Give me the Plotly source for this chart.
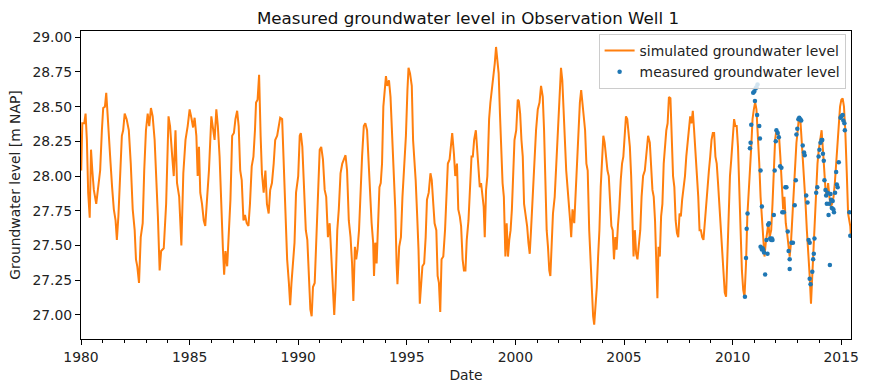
import pandas as pd
import plotly.graph_objects as go

title = "Measured groundwater level in Observation Well 1"
x_label = "Date"
y_label = "Groundwater level [m NAP]"
sim_name = "simulated groundwater level"
obs_name = "measured groundwater level"

# simulated groundwater level: (decimal year, level m NAP)
simulated = [
    (1980.01, 28.04), (1980.06, 28.38), (1980.15, 28.38), (1980.21, 28.45), (1980.27, 28.26), (1980.33, 27.88),
    (1980.40, 27.70), (1980.46, 28.19), (1980.52, 28.04), (1980.59, 27.90), (1980.70, 27.80), (1980.79, 27.92),
    (1980.88, 28.04), (1980.96, 28.33), (1981.02, 28.49), (1981.10, 28.50), (1981.16, 28.60), (1981.22, 28.45),
    (1981.28, 28.26), (1981.36, 28.09), (1981.43, 27.92), (1981.51, 27.76), (1981.59, 27.68), (1981.65, 27.54),
    (1981.72, 27.71), (1981.80, 27.97), (1981.88, 28.29), (1981.94, 28.33), (1982.01, 28.45), (1982.10, 28.41),
    (1982.20, 28.33), (1982.29, 28.09), (1982.38, 27.76), (1982.47, 27.61), (1982.53, 27.40), (1982.59, 27.35),
    (1982.67, 27.23), (1982.75, 27.56), (1982.84, 27.66), (1982.91, 28.04), (1982.99, 28.33), (1983.07, 28.45),
    (1983.14, 28.36), (1983.22, 28.49), (1983.30, 28.43), (1983.39, 28.26), (1983.46, 28.02), (1983.54, 27.71),
    (1983.62, 27.32), (1983.69, 27.46), (1983.81, 27.48), (1983.92, 27.80), (1984.03, 28.43), (1984.10, 28.36),
    (1984.20, 28.14), (1984.27, 28.00), (1984.35, 28.33), (1984.42, 27.95), (1984.52, 27.85), (1984.62, 27.50),
    (1984.71, 28.02), (1984.81, 28.26), (1984.91, 28.36),
    (1985.00, 28.48), (1985.08, 28.42), (1985.16, 28.35), (1985.23, 28.42), (1985.31, 28.29), (1985.37, 28.00),
    (1985.43, 28.21), (1985.49, 27.88), (1985.57, 27.80), (1985.65, 27.68), (1985.72, 27.64), (1985.80, 27.83),
    (1985.89, 28.04), (1986.00, 28.43), (1986.07, 28.33), (1986.15, 28.26), (1986.23, 28.48), (1986.30, 28.36),
    (1986.38, 28.14), (1986.46, 27.71), (1986.53, 27.49), (1986.59, 27.29), (1986.65, 27.46), (1986.73, 27.35),
    (1986.81, 27.64), (1986.88, 27.83), (1986.96, 28.29), (1987.04, 28.31), (1987.11, 28.41), (1987.19, 28.47),
    (1987.26, 28.36), (1987.33, 28.04), (1987.40, 27.97), (1987.48, 27.68), (1987.55, 27.72), (1987.63, 27.66),
    (1987.71, 27.64), (1987.78, 27.80), (1987.86, 28.07), (1987.94, 28.14), (1988.01, 28.33), (1988.06, 28.53),
    (1988.13, 28.55), (1988.20, 28.73), (1988.27, 28.29), (1988.33, 28.02), (1988.41, 27.88), (1988.49, 28.04),
    (1988.56, 27.80), (1988.64, 27.73), (1988.71, 27.90), (1988.79, 27.95), (1988.87, 28.09), (1988.94, 28.26),
    (1989.03, 28.29), (1989.11, 28.36), (1989.17, 28.42), (1989.26, 28.41), (1989.34, 28.00), (1989.42, 27.66),
    (1989.49, 27.40), (1989.57, 27.23), (1989.63, 27.07), (1989.69, 27.23), (1989.75, 27.37), (1989.83, 27.52),
    (1989.90, 27.88), (1990.00, 28.00), (1990.07, 28.29),
    (1990.12, 28.31), (1990.19, 28.21), (1990.27, 27.85), (1990.35, 27.61), (1990.42, 27.54), (1990.50, 27.23),
    (1990.56, 27.04), (1990.62, 26.99), (1990.68, 27.20), (1990.76, 27.23), (1990.84, 27.56), (1990.91, 27.88),
    (1990.99, 28.19), (1991.06, 28.21), (1991.14, 28.12), (1991.22, 27.90), (1991.29, 27.85), (1991.37, 27.56),
    (1991.45, 27.66), (1991.51, 27.47), (1991.58, 27.28), (1991.66, 27.00), (1991.72, 27.20), (1991.80, 27.61),
    (1991.87, 27.76), (1991.95, 28.02), (1992.03, 28.09), (1992.10, 28.12), (1992.18, 28.15), (1992.25, 28.04),
    (1992.33, 27.68), (1992.41, 27.56), (1992.48, 27.37), (1992.54, 27.10), (1992.61, 27.49), (1992.67, 27.40),
    (1992.73, 27.47), (1992.80, 27.61), (1992.88, 28.00), (1992.94, 28.14), (1993.02, 28.36), (1993.09, 28.38),
    (1993.17, 28.33), (1993.25, 28.12), (1993.32, 27.85), (1993.38, 27.66), (1993.45, 27.52), (1993.49, 27.28),
    (1993.55, 27.52), (1993.61, 27.37), (1993.67, 27.71), (1993.74, 27.92), (1993.80, 27.95), (1993.86, 28.09),
    (1993.92, 28.50), (1993.98, 28.65), (1994.04, 28.72), (1994.10, 28.65), (1994.18, 28.69), (1994.25, 28.57),
    (1994.32, 28.31), (1994.39, 28.14), (1994.47, 27.76), (1994.53, 27.37), (1994.57, 27.22), (1994.65, 27.49),
    (1994.73, 27.56), (1994.80, 27.85), (1994.88, 28.04), (1994.96, 28.29), (1995.03, 28.62),
    (1995.08, 28.78), (1995.15, 28.74), (1995.23, 28.65), (1995.29, 28.26), (1995.35, 28.14), (1995.41, 27.97),
    (1995.48, 27.71), (1995.54, 27.47), (1995.60, 27.08), (1995.66, 27.20), (1995.72, 27.35), (1995.80, 27.37),
    (1995.87, 27.56), (1995.93, 27.83), (1996.01, 27.88), (1996.09, 28.02), (1996.15, 27.97), (1996.22, 27.80),
    (1996.28, 27.66), (1996.36, 27.61), (1996.42, 27.28), (1996.48, 27.23), (1996.54, 27.02), (1996.60, 27.40),
    (1996.68, 27.42), (1996.76, 27.61), (1996.83, 27.92), (1996.89, 28.09), (1996.97, 28.12), (1997.03, 28.24),
    (1997.09, 28.31), (1997.17, 28.16), (1997.23, 28.00), (1997.31, 28.09), (1997.37, 27.76), (1997.44, 27.71),
    (1997.50, 27.64), (1997.57, 27.40), (1997.63, 27.32), (1997.70, 27.32), (1997.76, 27.54), (1997.84, 27.68),
    (1997.90, 27.88), (1997.98, 28.14), (1998.04, 28.14), (1998.10, 28.26), (1998.18, 28.33), (1998.24, 28.19),
    (1998.30, 28.02), (1998.36, 27.92), (1998.42, 27.95), (1998.48, 27.85), (1998.54, 27.78), (1998.59, 27.56),
    (1998.65, 27.90), (1998.71, 28.00), (1998.79, 28.41), (1998.85, 28.53), (1998.92, 28.62), (1998.99, 28.74),
    (1999.05, 28.81), (1999.11, 28.93), (1999.17, 28.84), (1999.23, 28.74), (1999.29, 28.45), (1999.35, 28.14),
    (1999.41, 27.95), (1999.47, 27.85), (1999.54, 27.42), (1999.60, 27.66), (1999.66, 27.42), (1999.72, 27.54),
    (1999.78, 27.61), (1999.84, 27.76), (1999.90, 28.00), (1999.96, 28.26), (2000.04, 28.33),
    (2000.11, 28.55), (2000.16, 28.54), (2000.22, 28.45), (2000.28, 28.26), (2000.34, 28.14), (2000.40, 27.80),
    (2000.48, 27.71), (2000.54, 27.64), (2000.60, 27.52), (2000.66, 27.44), (2000.72, 27.61), (2000.80, 27.90),
    (2000.88, 28.14), (2000.95, 28.33), (2001.03, 28.48), (2001.11, 28.53), (2001.18, 28.65), (2001.26, 28.57),
    (2001.32, 28.33), (2001.38, 28.02), (2001.44, 27.61), (2001.50, 27.49), (2001.56, 27.32), (2001.61, 27.28),
    (2001.67, 27.54), (2001.73, 27.73), (2001.81, 27.85), (2001.89, 28.09), (2001.96, 28.33), (2002.02, 28.45),
    (2002.10, 28.78), (2002.16, 28.69), (2002.22, 28.45), (2002.28, 28.29), (2002.34, 28.04), (2002.40, 27.92),
    (2002.47, 27.80), (2002.53, 27.66), (2002.57, 27.56), (2002.63, 27.76), (2002.71, 27.66), (2002.79, 27.95),
    (2002.85, 28.09), (2002.91, 28.33), (2002.97, 28.53), (2003.03, 28.62), (2003.09, 28.53), (2003.15, 28.43),
    (2003.21, 28.33), (2003.27, 28.09), (2003.33, 28.04), (2003.40, 27.61), (2003.46, 27.37), (2003.52, 27.25),
    (2003.58, 26.99), (2003.63, 26.93), (2003.69, 27.06), (2003.75, 27.20), (2003.81, 27.42), (2003.87, 27.61),
    (2003.93, 27.92), (2003.99, 28.14), (2004.05, 28.29), (2004.11, 28.24), (2004.17, 28.14), (2004.24, 28.04),
    (2004.30, 28.00), (2004.36, 27.80), (2004.42, 27.64), (2004.48, 27.61), (2004.54, 27.40), (2004.60, 27.56),
    (2004.66, 27.47), (2004.72, 27.64), (2004.78, 27.76), (2004.85, 27.97), (2004.91, 28.09), (2004.97, 28.14),
    (2005.03, 28.33), (2005.09, 28.43),
    (2005.15, 28.41), (2005.21, 28.29), (2005.27, 28.21), (2005.33, 28.00), (2005.40, 27.61), (2005.44, 27.42),
    (2005.50, 27.61), (2005.56, 27.44), (2005.62, 27.40), (2005.69, 27.52), (2005.75, 27.61), (2005.81, 27.85),
    (2005.88, 28.00), (2005.96, 28.04), (2006.04, 28.21), (2006.11, 28.29), (2006.19, 28.24), (2006.25, 28.07),
    (2006.31, 27.90), (2006.37, 27.85), (2006.43, 27.68), (2006.49, 27.37), (2006.54, 27.12), (2006.59, 27.49),
    (2006.65, 27.42), (2006.71, 27.71), (2006.77, 27.80), (2006.83, 28.09), (2006.89, 28.21), (2006.95, 28.33),
    (2007.01, 28.38), (2007.07, 28.57), (2007.14, 28.56), (2007.20, 28.33), (2007.26, 28.00), (2007.32, 27.92),
    (2007.38, 27.68), (2007.44, 27.59), (2007.50, 27.56), (2007.56, 27.73), (2007.62, 27.71), (2007.68, 27.83),
    (2007.75, 27.92), (2007.81, 28.00), (2007.87, 28.14), (2007.93, 28.24), (2007.99, 28.33), (2008.05, 28.43),
    (2008.11, 28.38), (2008.17, 28.47), (2008.23, 28.33), (2008.30, 28.16), (2008.36, 28.04), (2008.42, 27.85),
    (2008.48, 27.61), (2008.54, 27.61), (2008.60, 27.56), (2008.66, 27.54), (2008.72, 27.66), (2008.78, 27.80),
    (2008.85, 27.95), (2008.91, 28.04), (2008.97, 28.14), (2009.03, 28.26), (2009.09, 28.31), (2009.15, 28.31),
    (2009.21, 28.14), (2009.27, 28.09), (2009.33, 27.95), (2009.39, 27.80), (2009.46, 27.64), (2009.52, 27.49),
    (2009.58, 27.32), (2009.64, 27.16), (2009.70, 27.13), (2009.76, 27.42), (2009.82, 27.71), (2009.88, 28.00),
    (2009.94, 28.12), (2010.00, 28.24), (2010.07, 28.41), (2010.13, 28.36),
    (2010.19, 28.36), (2010.25, 28.21), (2010.31, 27.97), (2010.37, 27.61), (2010.43, 27.32), (2010.49, 27.18),
    (2010.55, 27.13), (2010.62, 27.37), (2010.68, 27.71), (2010.74, 27.92), (2010.80, 28.04), (2010.86, 28.21),
    (2010.92, 28.41), (2010.98, 28.48), (2011.04, 28.53), (2011.10, 28.48), (2011.17, 28.29), (2011.23, 28.09),
    (2011.29, 27.85), (2011.35, 27.68), (2011.41, 27.52), (2011.47, 27.42), (2011.53, 27.52), (2011.59, 27.61),
    (2011.65, 27.66), (2011.71, 27.56), (2011.78, 27.61), (2011.84, 27.80), (2011.90, 28.02), (2011.96, 28.26),
    (2012.02, 28.33), (2012.08, 28.31), (2012.14, 28.29), (2012.20, 28.14), (2012.26, 27.95), (2012.33, 27.76),
    (2012.39, 27.85), (2012.45, 27.66), (2012.51, 27.59), (2012.57, 27.52), (2012.63, 27.42), (2012.69, 27.52),
    (2012.75, 27.71), (2012.81, 27.85), (2012.87, 28.04), (2012.94, 28.24), (2013.00, 28.33), (2013.06, 28.43),
    (2013.12, 28.41), (2013.18, 28.26), (2013.24, 28.14), (2013.30, 28.02), (2013.36, 27.80), (2013.42, 27.61),
    (2013.49, 27.47), (2013.55, 27.28), (2013.61, 27.08), (2013.67, 27.28), (2013.73, 27.49), (2013.79, 27.71),
    (2013.85, 27.90), (2013.91, 28.09), (2013.97, 28.19), (2014.03, 28.26), (2014.10, 28.33), (2014.16, 28.19),
    (2014.22, 28.04), (2014.28, 27.90), (2014.34, 27.85), (2014.40, 27.95), (2014.46, 27.85), (2014.52, 27.78),
    (2014.58, 27.80), (2014.65, 27.85), (2014.71, 27.95), (2014.77, 28.09), (2014.83, 28.29), (2014.89, 28.43),
    (2014.95, 28.50), (2015.01, 28.55), (2015.07, 28.56), (2015.13, 28.50), (2015.19, 28.33), (2015.26, 28.02),
    (2015.32, 27.73), (2015.42, 27.64), (2015.45, 27.56),
]

# measured groundwater level: (decimal year, level m NAP)
measured = [
    (2010.57, 27.13), (2010.62, 27.41), (2010.65, 27.62), (2010.69, 27.73), (2010.80, 28.20), (2010.83, 28.24),
    (2010.86, 28.37), (2010.95, 28.60), (2011.00, 28.61), (2011.03, 28.54), (2011.06, 28.63), (2011.10, 28.64),
    (2011.13, 28.44), (2011.15, 28.66), (2011.23, 28.36), (2011.26, 28.27), (2011.29, 28.04), (2011.29, 27.49),
    (2011.35, 27.78), (2011.35, 27.47), (2011.38, 27.48), (2011.41, 27.47), (2011.45, 27.45), (2011.50, 27.29),
    (2011.56, 27.54), (2011.61, 27.44), (2011.64, 27.65), (2011.68, 27.66), (2011.73, 27.55), (2011.78, 27.54),
    (2011.81, 27.55), (2011.84, 27.54), (2011.90, 27.72), (2011.94, 28.04), (2011.99, 28.25), (2012.02, 28.33),
    (2012.08, 28.31), (2012.13, 28.28), (2012.19, 28.07), (2012.25, 28.06), (2012.29, 27.74), (2012.36, 27.74),
    (2012.43, 27.92), (2012.48, 27.92), (2012.54, 27.60), (2012.58, 27.46), (2012.63, 27.40), (2012.63, 27.33),
    (2012.71, 27.52), (2012.78, 27.52), (2012.86, 27.79), (2012.91, 27.97), (2012.94, 28.30), (2012.98, 28.34),
    (2013.03, 28.41), (2013.07, 28.42), (2013.12, 28.41), (2013.16, 28.40), (2013.23, 28.22), (2013.29, 28.17),
    (2013.32, 28.15), (2013.39, 27.86), (2013.45, 27.81), (2013.50, 27.54), (2013.55, 27.52), (2013.55, 27.26),
    (2013.59, 27.22), (2013.67, 27.31), (2013.71, 27.40), (2013.74, 27.44), (2013.77, 27.55), (2013.85, 27.88),
    (2013.90, 27.92), (2013.96, 28.14), (2014.00, 28.19), (2014.05, 28.24), (2014.10, 28.26), (2014.13, 28.26),
    (2014.16, 28.16), (2014.20, 28.11), (2014.23, 27.97), (2014.28, 27.90), (2014.31, 27.86), (2014.34, 27.80),
    (2014.38, 27.88), (2014.42, 27.72), (2014.45, 27.80), (2014.48, 27.36), (2014.51, 27.87), (2014.54, 27.83),
    (2014.57, 27.77), (2014.61, 27.82), (2014.64, 27.76), (2014.67, 27.74), (2014.72, 27.88), (2014.77, 28.03),
    (2014.80, 27.94), (2014.84, 27.92), (2014.89, 28.10), (2014.97, 28.42), (2015.01, 28.43), (2015.07, 28.44),
    (2015.10, 28.40), (2015.15, 28.38), (2015.17, 28.33), (2015.38, 27.74), (2015.42, 27.57),
]

y_ticks = [27.00, 27.25, 27.50, 27.75, 28.00, 28.25, 28.50, 28.75, 29.00]


def to_date(y):
    year = int(y)
    start = pd.Timestamp(year, 1, 1)
    end = pd.Timestamp(year + 1, 1, 1)
    return start + (end - start) * (y - year)


sim_dates = [to_date(p[0]) for p in simulated]
sim_levels = [p[1] for p in simulated]
obs_dates = [to_date(p[0]) for p in measured]
obs_levels = [p[1] for p in measured]

FONT = "DejaVu Sans"

fig = go.Figure()
fig.add_trace(go.Scatter(x=sim_dates, y=sim_levels, mode="lines", name=sim_name,
                         line=dict(color="#ff7f0e", width=2)))
fig.add_trace(go.Scatter(x=obs_dates, y=obs_levels, mode="markers", name=obs_name,
                         marker=dict(color="#1f77b4", size=4.5, line=dict(width=0))))

axis_common = dict(showline=True, linecolor="black", linewidth=1, mirror=True, showgrid=False,
                   zeroline=False, ticks="outside", ticklen=5, tickwidth=1, tickcolor="black",
                   tickfont=dict(family=FONT, size=13.9, color="#222222"))

fig.update_layout(
    width=871, height=392,
    margin=dict(l=81, r=16, t=31, b=53),
    paper_bgcolor="white", plot_bgcolor="white",
    font=dict(family=FONT, size=13.9, color="#222222"),
    title=dict(text=title, x=(81 + 855) / 2 / 871, xanchor="center", y=1 - 18 / 392, yanchor="middle",
               font=dict(family=FONT, size=16.7, color="#111111")),
    xaxis=dict(**axis_common, type="date",
               range=[to_date(1980.0), to_date(2015.454)],
               tick0="1980-01-01", dtick="M60", tickformat="%Y",
               minor=dict(ticks="outside", dtick="M12", ticklen=3, tickcolor="black"),
               title=dict(text=x_label, font=dict(family=FONT, size=13.9), standoff=6)),
    yaxis=dict(**axis_common, range=[26.826, 29.045], tickvals=y_ticks,
               ticktext=[f"{v:.2f}" for v in y_ticks],
               title=dict(text=y_label, font=dict(family=FONT, size=13.9), standoff=8)),
    legend=dict(x=0.993, xanchor="right", y=0.99, yanchor="top",
                bgcolor="rgba(255,255,255,0.8)", bordercolor="#cccccc", borderwidth=1,
                font=dict(family=FONT, size=13.9, color="#222222"), tracegroupgap=0,
                itemwidth=30),
    showlegend=True,
)

fig.write_html("out.html")
